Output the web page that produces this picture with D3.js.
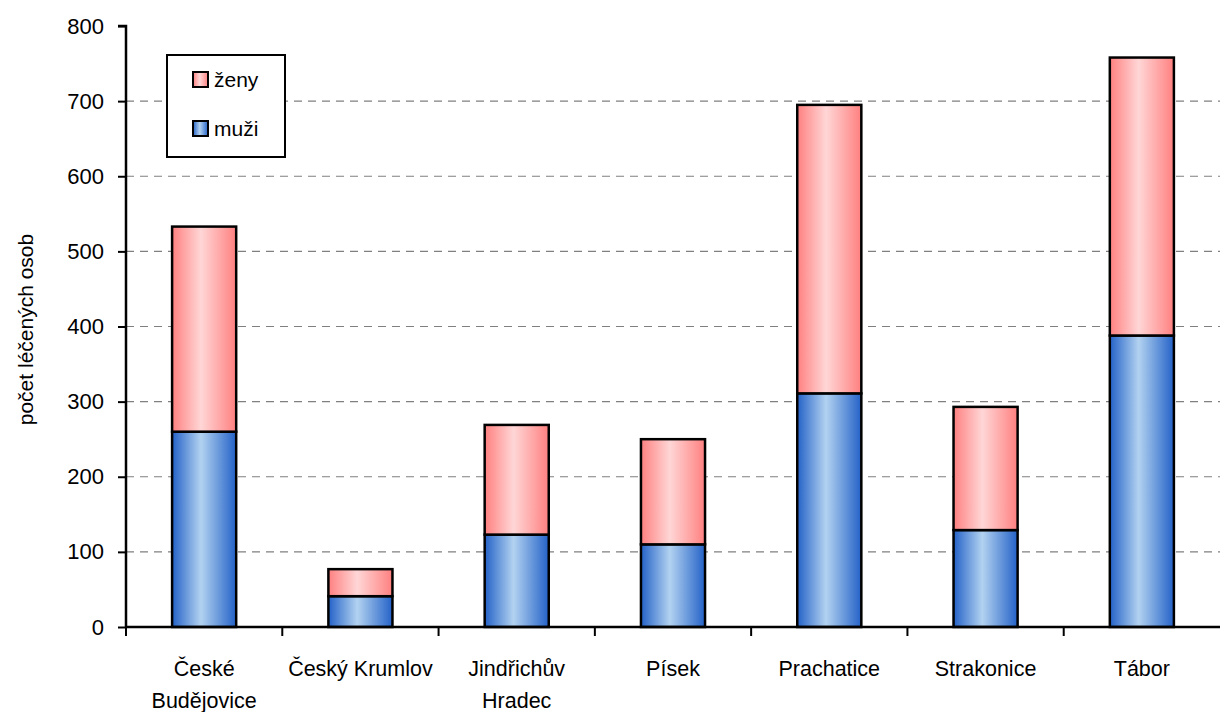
<!DOCTYPE html>
<html>
<head>
<meta charset="utf-8">
<script src="https://cdn.jsdelivr.net/npm/d3@7"></script>
<style>
  body { margin: 0; background: #fff; }
  text { font-family: "Liberation Sans", Arial, sans-serif; }
</style>
</head>
<body>
<svg id="chart" width="1220" height="712"></svg>
<script>
const categories = ["České\nBudějovice", "Český Krumlov", "Jindřichův\nHradec", "Písek", "Prachatice", "Strakonice", "Tábor"];
const muzi = [260, 41, 123, 110, 311, 129, 388];
const zeny = [273, 36, 146, 140, 384, 164, 370];
const yTicks = [0, 100, 200, 300, 400, 500, 600, 700, 800];

const svg = d3.select("#chart");
const margin = { left: 126, right: 0, top: 26, bottom: 85 };
const width = 1220 - margin.left - margin.right;
const height = 712 - margin.top - margin.bottom;

const defs = svg.append("defs");
const makeGrad = (id, edge, mid) => {
  const g = defs.append("linearGradient").attr("id", id)
    .attr("x1", "0%").attr("x2", "100%").attr("y1", "0%").attr("y2", "0%");
  g.append("stop").attr("offset", "0%").attr("stop-color", edge);
  g.append("stop").attr("offset", "45%").attr("stop-color", mid);
  g.append("stop").attr("offset", "100%").attr("stop-color", edge);
};
makeGrad("gZeny", "#ff8080", "#ffd6d6");
makeGrad("gMuzi", "#2462c8", "#b2d2f0");

const g = svg.append("g").attr("transform", `translate(${margin.left},${margin.top})`);

const x = d3.scaleBand().domain(categories).range([0, width]).paddingInner(0.59).paddingOuter(0.295);
const y = d3.scaleLinear().domain([0, 800]).range([height, 0]);

// gridlines
g.append("g")
  .selectAll("line")
  .data(yTicks.filter(d => d > 0 && d < 800))
  .join("line")
  .attr("x1", 0)
  .attr("x2", width)
  .attr("y1", d => y(d))
  .attr("y2", d => y(d))
  .attr("stroke", "#808080")
  .attr("stroke-width", 1.2)
  .attr("stroke-dasharray", "8,6");

// stacked bars
const rows = categories.map((c, i) => ({ cat: c, muzi: muzi[i], zeny: zeny[i] }));
const stack = d3.stack().keys(["muzi", "zeny"])(rows);
const fills = { muzi: "url(#gMuzi)", zeny: "url(#gZeny)" };

g.selectAll("g.series")
  .data(stack)
  .join("g")
  .attr("class", "series")
  .attr("fill", d => fills[d.key])
  .selectAll("rect")
  .data(d => d)
  .join("rect")
  .attr("x", d => x(d.data.cat))
  .attr("width", x.bandwidth())
  .attr("y", d => y(d[1]))
  .attr("height", d => y(d[0]) - y(d[1]))
  .attr("stroke", "#000")
  .attr("stroke-width", 2.5);

// y axis
const yAxis = g.append("g")
  .call(d3.axisLeft(y).tickValues(yTicks).tickSize(8).tickPadding(14));
yAxis.select(".domain").attr("stroke-width", 2.5).attr("d", `M-8,${y(800)}H0V${height}`);
yAxis.selectAll(".tick line").attr("stroke-width", 2);
yAxis.selectAll("text").attr("font-size", 22).attr("fill", "#000");

// x axis
const xAxis = g.append("g").attr("transform", `translate(0,${height})`);
xAxis.append("line")
  .attr("x1", 0).attr("x2", width)
  .attr("stroke", "#000").attr("stroke-width", 2.5);
const step = x.step();
xAxis.selectAll("line.tk")
  .data(d3.range(categories.length))
  .join("line")
  .attr("class", "tk")
  .attr("x1", i => i * step).attr("x2", i => i * step)
  .attr("y1", 0).attr("y2", 9)
  .attr("stroke", "#000").attr("stroke-width", 2);

xAxis.selectAll("text.lbl")
  .data(categories)
  .join("text")
  .attr("class", "lbl")
  .attr("x", d => x(d) + x.bandwidth() / 2)
  .attr("text-anchor", "middle")
  .attr("font-size", 21.5)
  .selectAll("tspan")
  .data(d => d.split("\n"))
  .join("tspan")
  .attr("x", function () { return d3.select(this.parentNode).attr("x"); })
  .attr("y", (d, i) => 49 + i * 32)
  .text(d => d);

// y axis title
svg.append("text")
  .attr("transform", `translate(33,${margin.top + height / 2 + 3}) rotate(-90)`)
  .attr("text-anchor", "middle")
  .attr("font-size", 21)
  .text("počet léčených osob");

// legend
const legend = svg.append("g").attr("transform", "translate(167,55)");
legend.append("rect")
  .attr("width", 118).attr("height", 102)
  .attr("fill", "#fff").attr("stroke", "#000").attr("stroke-width", 2);
const legendItems = [{ key: "zeny", label: "ženy" }, { key: "muzi", label: "muži" }];
const li = legend.selectAll("g.item")
  .data(legendItems)
  .join("g")
  .attr("class", "item")
  .attr("transform", (d, i) => `translate(26,${17 + i * 49})`);
li.append("rect")
  .attr("width", 15).attr("height", 15)
  .attr("fill", d => fills[d.key])
  .attr("stroke", "#000").attr("stroke-width", 2);
li.append("text")
  .attr("x", 21).attr("y", 15)
  .attr("font-size", 21)
  .text(d => d.label);
</script>
</body>
</html>
